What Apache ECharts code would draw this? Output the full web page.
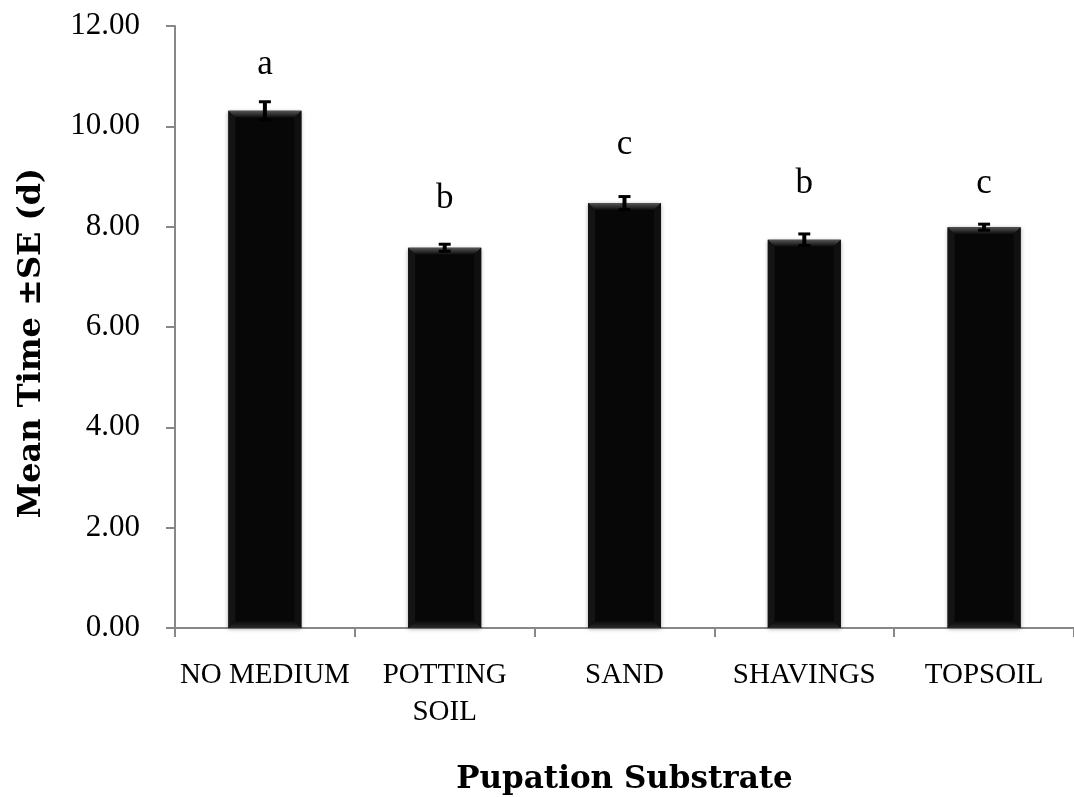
<!DOCTYPE html>
<html>
<head>
<meta charset="utf-8">
<script src="https://cdn.jsdelivr.net/npm/echarts@6/dist/echarts.min.js"></script>
<style>html,body{margin:0;padding:0;background:#fff;}#c{width:1074px;height:797px;}</style>
</head>
<body>
<div id="c"></div>
<script>
// ---- data ----
var categories = ['NO MEDIUM', 'POTTING SOIL', 'SAND', 'SHAVINGS', 'TOPSOIL'];
var meanTime = [10.31, 7.58, 8.47, 7.74, 7.99];
var stdErr = [0.18, 0.07, 0.13, 0.115, 0.06];
var letters = ['a', 'b', 'c', 'b', 'c'];
var letterAt = [11.22, 8.55, 9.64, 8.86, 8.86];
var yTicks = [0, 2, 4, 6, 8, 10, 12];

var chart = echarts.init(document.getElementById('c'), null, {renderer: 'canvas'});
var axisGray = '#878787';
var serif = '"Liberation Serif", "Times New Roman", serif';
var boldSerif = '"DejaVu Serif", "Liberation Serif", serif';

var errData = categories.map(function (c, i) { return [i, meanTime[i], stdErr[i], letters[i], letterAt[i]]; });

var option = {
  animation: false,
  backgroundColor: '#fff',
  grid: {left: 175, right: 0, top: 26, bottom: 169, containLabel: false, outerBoundsMode: 'none'},
  xAxis: {
    type: 'category',
    data: categories,
    name: 'Pupation Substrate',
    nameLocation: 'middle',
    nameGap: 136,
    nameTextStyle: {fontFamily: boldSerif, fontWeight: 'bold', fontSize: 31, color: '#000'},
    axisLine: {lineStyle: {color: axisGray, width: 2}},
    axisTick: {show: true, length: 9, lineStyle: {color: axisGray, width: 2}, alignWithLabel: false},
    axisLabel: {
      color: '#000', fontFamily: serif, fontSize: 29, margin: 29, lineHeight: 37, interval: 0,
      formatter: function (v) { return v === 'POTTING SOIL' ? 'POTTING\nSOIL' : v; }
    },
    splitLine: {show: false}
  },
  yAxis: {
    type: 'value',
    min: yTicks[0], max: yTicks[yTicks.length - 1], interval: 2,
    name: 'Mean Time \u00B1SE (d)',
    nameLocation: 'middle',
    nameGap: 127,
    nameRotate: 90,
    nameTextStyle: {fontFamily: boldSerif, fontWeight: 'bold', fontSize: 32, color: '#000', padding: [0, 0, 0, -32]},
    axisLine: {show: true, lineStyle: {color: axisGray, width: 2}},
    axisTick: {show: true, length: 9, lineStyle: {color: axisGray, width: 2}},
    axisLabel: {color: '#000', fontFamily: serif, fontSize: 31, margin: 35,
      formatter: function (v) { return v.toFixed(2); }},
    splitLine: {show: false}
  },
  series: [
    {
      type: 'bar',
      data: meanTime,
      barWidth: 73,
      itemStyle: {color: '#070707', shadowBlur: 4, shadowColor: 'rgba(0,0,0,0.35)', shadowOffsetX: 0, shadowOffsetY: 1},
      z: 2
    },
    {
      type: 'custom',
      data: errData,
      z: 5,
      encode: {x: 0, y: 1},
      renderItem: function (params, api) {
        var i = api.value(0), m = api.value(1), se = api.value(2);
        var base = api.coord([i, 0]);
        var top = api.coord([i, m]);
        var hi = api.coord([i, m + se]);
        var lo = api.coord([i, m - se]);
        var lab = api.coord([i, api.value(4)]);
        var w = 73, x0 = top[0] - w / 2, x1 = top[0] + w / 2, y0 = top[1], y1 = base[1];
        var b = 7;
        var children = [
          {type: 'polygon', shape: {points: [[x0, y0], [x1, y0], [x1 - b, y0 + b], [x0 + b, y0 + b]]},
            style: {fill: new echarts.graphic.LinearGradient(0, 0, 0, 1, [{offset: 0, color: '#555555'}, {offset: 1, color: '#0a0a0a'}])}},
          {type: 'polygon', shape: {points: [[x0 + b, y1 - b], [x1 - b, y1 - b], [x1, y1], [x0, y1]]},
            style: {fill: new echarts.graphic.LinearGradient(0, 0, 0, 1, [{offset: 0, color: '#0a0a0a'}, {offset: 1, color: '#2a2a2a'}])}},
          {type: 'polygon', shape: {points: [[x0, y0], [x0 + b, y0 + b], [x0 + b, y1 - b], [x0, y1]]},
            style: {fill: '#141414'}},
          {type: 'polygon', shape: {points: [[x1, y0], [x1 - b, y0 + b], [x1 - b, y1 - b], [x1, y1]]},
            style: {fill: '#101010'}},
          {type: 'line', shape: {x1: top[0], y1: hi[1], x2: top[0], y2: lo[1]}, style: {stroke: '#000', lineWidth: 4}},
          {type: 'line', shape: {x1: top[0] - 6, y1: hi[1], x2: top[0] + 6, y2: hi[1]}, style: {stroke: '#000', lineWidth: 3}},
          {type: 'line', shape: {x1: top[0] - 6, y1: lo[1], x2: top[0] + 6, y2: lo[1]}, style: {stroke: '#000', lineWidth: 3}},
          {type: 'text', x: lab[0], y: lab[1], style: {text: api.value(3), fill: '#000', fontFamily: serif, fontSize: 35, align: 'center', verticalAlign: 'middle'}}
        ];
        return {type: 'group', children: children};
      }
    }
  ]
};
chart.setOption(option);
</script>
</body>
</html>
